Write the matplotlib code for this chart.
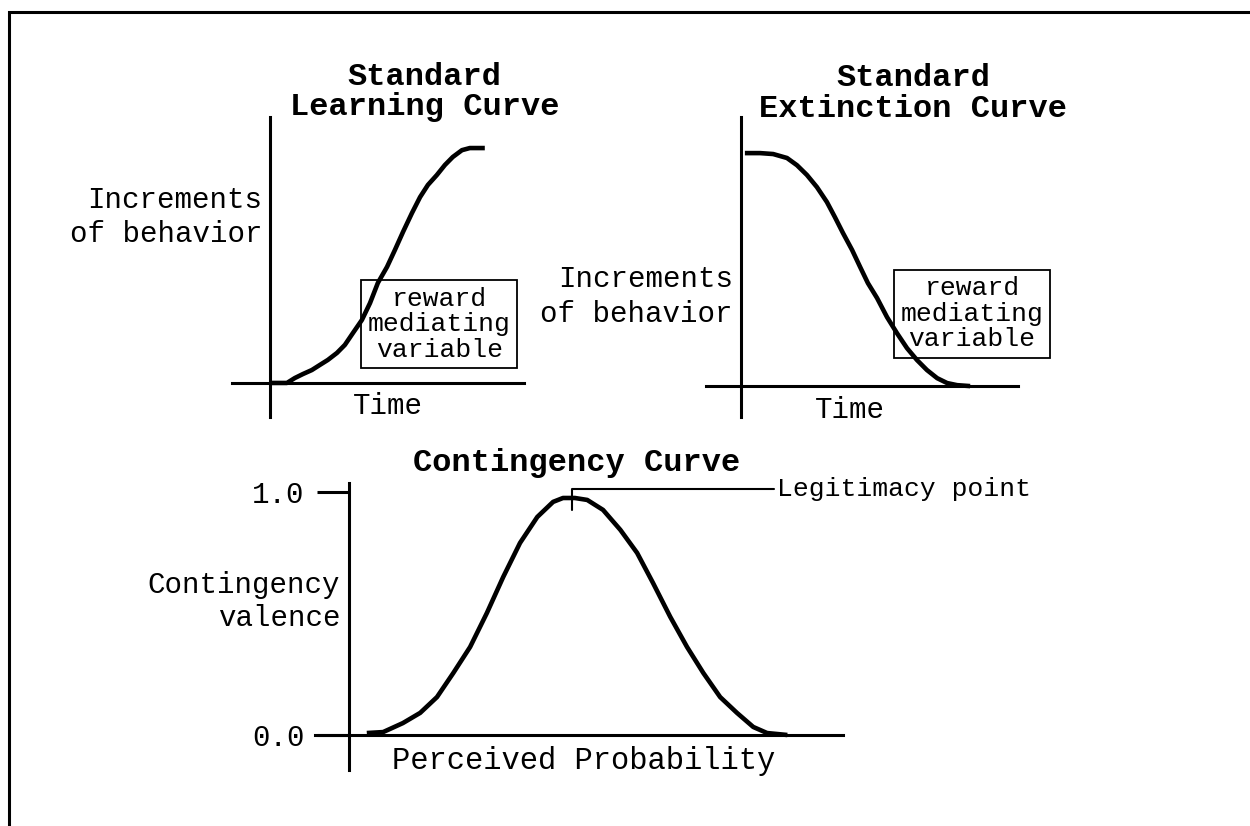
import matplotlib.pyplot as plt
from matplotlib.patches import Rectangle

plt.rcParams['font.family'] = ['Liberation Mono', 'DejaVu Sans Mono']

# Standard learning curve (time, increments of behavior)
learn_t = [0.0, 0.067, 0.098, 0.130, 0.165, 0.197, 0.228, 0.264, 0.295, 0.327, 0.362, 0.394,
           0.425, 0.461, 0.492, 0.524, 0.559, 0.591, 0.622, 0.657, 0.689, 0.720, 0.756, 0.787, 0.846]
learn_v = [0.0, 0.0, 0.021, 0.038, 0.055, 0.077, 0.098, 0.128, 0.162, 0.213, 0.268, 0.340,
           0.426, 0.494, 0.566, 0.643, 0.723, 0.791, 0.843, 0.885, 0.928, 0.962, 0.991, 1.0, 1.0]

# Standard extinction curve
ext_t = [0.014, 0.069, 0.116, 0.166, 0.202, 0.238, 0.274, 0.310, 0.339, 0.368, 0.401, 0.430,
         0.458, 0.491, 0.527, 0.563, 0.599, 0.635, 0.671, 0.708, 0.744, 0.780, 0.827]
ext_v = [1.0, 1.0, 0.996, 0.979, 0.948, 0.906, 0.854, 0.790, 0.725, 0.657, 0.584, 0.511,
         0.442, 0.378, 0.296, 0.227, 0.163, 0.112, 0.069, 0.034, 0.013, 0.004, 0.0]

# Contingency curve (perceived probability, contingency valence)
cont_p = [0.036, 0.069, 0.109, 0.144, 0.178, 0.211, 0.245, 0.279, 0.312, 0.346, 0.381, 0.413,
          0.433, 0.457, 0.482, 0.514, 0.549, 0.583, 0.615, 0.650, 0.684, 0.717, 0.751, 0.785,
          0.818, 0.846, 0.887]
cont_v = [0.008, 0.012, 0.049, 0.091, 0.156, 0.255, 0.362, 0.502, 0.650, 0.790, 0.897, 0.959,
          0.975, 0.975, 0.967, 0.926, 0.844, 0.749, 0.626, 0.486, 0.362, 0.255, 0.156, 0.091,
          0.033, 0.008, 0.0]
cont_ticks = [0.0, 1.0]
cont_ticklabels = ['0.0', '1.0']
legit_point = (0.451, 0.926)

W, H = 1250, 826
fig = plt.figure(figsize=(W / 100, H / 100), dpi=100)
fig.patch.set_facecolor('white')

# page frame (only top and left edges are visible in the scan)
fig.add_artist(Rectangle((0.007, -0.2), 1.2, 1.185, transform=fig.transFigure,
                         fill=False, lw=2.2, ec='black'))


def px_axes(x0, y0, x1, y1):
    return fig.add_axes([x0 / W, 1 - y1 / H, (x1 - x0) / W, (y1 - y0) / H])


def style_axes(ax, xlim, ylim, xb, yb):
    ax.set_xlim(*xlim)
    ax.set_ylim(*ylim)
    ax.patch.set_alpha(0)
    for s in ['top', 'right']:
        ax.spines[s].set_visible(False)
    ax.spines['left'].set_position(('data', 0))
    ax.spines['bottom'].set_position(('data', 0))
    ax.spines['left'].set_bounds(*yb)
    ax.spines['bottom'].set_bounds(*xb)
    ax.spines['left'].set_linewidth(2.2)
    ax.spines['bottom'].set_linewidth(2.2)
    ax.set_xticks([])
    ax.set_yticks([])


lab_fs = 21
box_fs = 19
title_fs = 23
curve_kw = dict(color='black', lw=3.3, solid_capstyle='butt', solid_joinstyle='round')
box_kw = dict(boxstyle='square,pad=0.25', fc='none', ec='black', lw=1.3)

# --- learning curve
ax1 = px_axes(225, 110, 530, 425)
style_axes(ax1, (-0.177, 1.024), (-0.179, 1.162), (-0.15, 1.0), (-0.145, 1.132))
ax1.plot(learn_t, learn_v, **curve_kw)
ax1.text(0.61, 1.238, 'Standard\nLearning Curve', ha='center', va='center',
         fontsize=title_fs, fontweight='bold', linespacing=1.0)
ax1.text(-0.031, 0.706, 'Increments\nof behavior', ha='right', va='center',
         fontsize=lab_fs, multialignment='right', linespacing=1.3)
ax1.text(0.465, -0.10, 'Time', ha='center', va='center', fontsize=lab_fs)
ax1.text(0.667, 0.25, 'reward\nmediating\nvariable', ha='center', va='center',
         fontsize=box_fs, linespacing=1.08, bbox=box_kw)

# --- extinction curve
ax2 = px_axes(700, 110, 1025, 425)
style_axes(ax2, (-0.148, 1.025), (-0.167, 1.185), (-0.126, 1.0), (-0.133, 1.155))
ax2.plot(ext_t, ext_v, **curve_kw)
ax2.text(0.621, 1.255, 'Standard\nExtinction Curve', ha='center', va='center',
         fontsize=title_fs, fontweight='bold', linespacing=1.05)
ax2.text(-0.029, 0.384, 'Increments\nof behavior', ha='right', va='center',
         fontsize=lab_fs, multialignment='right', linespacing=1.3)
ax2.text(0.394, -0.103, 'Time', ha='center', va='center', fontsize=lab_fs)
ax2.text(0.834, 0.311, 'reward\nmediating\nvariable', ha='center', va='center',
         fontsize=box_fs, linespacing=1.08, bbox=box_kw)

# --- contingency curve
ax3 = px_axes(300, 480, 860, 775)
style_axes(ax3, (-0.0992, 1.034), (-0.1646, 1.049), (-0.0688, 1.0), (-0.144, 1.037))
ax3.plot(cont_p, cont_v, **curve_kw)
ax3.set_yticks(cont_ticks)
ax3.set_yticklabels(cont_ticklabels, fontsize=lab_fs)
ax3.tick_params(axis='y', direction='out', length=23, width=2.2, pad=9)
ax3.text(0.46, 1.119, 'Contingency Curve', ha='center', va='center',
         fontsize=title_fs, fontweight='bold')
ax3.text(-0.018, 0.549, 'Contingency\nvalence', ha='right', va='center',
         fontsize=lab_fs, multialignment='right', linespacing=1.2)
ax3.text(0.475, -0.107, 'Perceived Probability', ha='center', va='center', fontsize=lab_fs + 1)
ax3.annotate('Legitimacy point', xy=legit_point, xytext=(0.866, 1.012),
             ha='left', va='center', fontsize=19,
             arrowprops=dict(arrowstyle='-', lw=1.5, color='black', shrinkA=0, shrinkB=0,
                             connectionstyle='angle,angleA=0,angleB=90,rad=0'))

fig.savefig('out.png', dpi=100, facecolor='white')
